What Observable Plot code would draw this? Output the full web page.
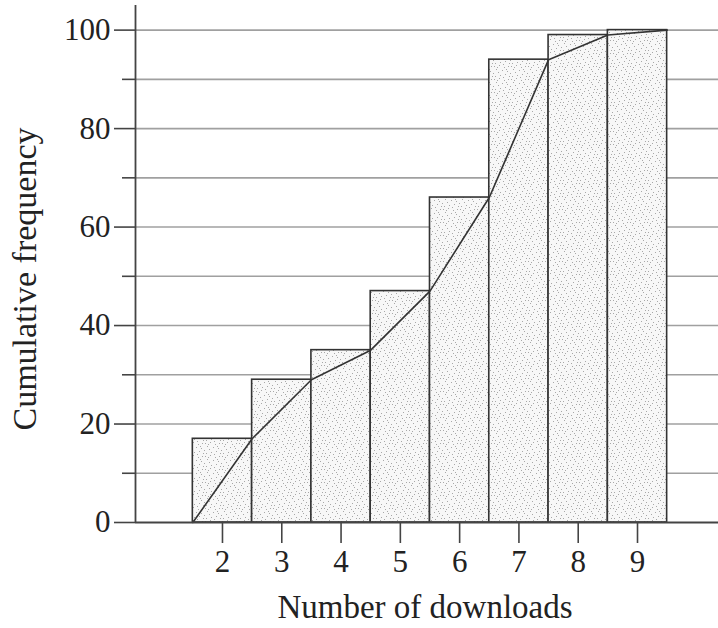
<!DOCTYPE html>
<html><head><meta charset="utf-8">
<script src="https://cdn.jsdelivr.net/npm/d3@7"></script>
<script src="https://cdn.jsdelivr.net/npm/@observablehq/plot@0.6"></script>
<style>body{margin:0;background:#fff}</style>
</head><body><div id="chart"></div>
<script>
const downloads = [2, 3, 4, 5, 6, 7, 8, 9];
const cumFreq = [17, 29, 35, 47, 66, 94, 99, 100];
const majorTicks = [0, 20, 40, 60, 80, 100];
const minorTicks = [10, 30, 50, 70, 90];
const gridValues = [10, 20, 30, 40, 50, 60, 70, 80, 90, 100];

const bars = downloads.map((d, i) => ({x1: d - 0.5, x2: d + 0.5, y: cumFreq[i]}));
const linePts = [{x: downloads[0] - 0.5, y: 0}].concat(downloads.map((d, i) => ({x: d + 0.5, y: cumFreq[i]})));
const xLo = 0.533, xHi = 10.366;
const font = "'Liberation Serif', 'DejaVu Serif', serif";
const fs = 31;

const chart = Plot.plot({
  width: 718, height: 628,
  marginLeft: 135, marginRight: 0, marginTop: 5, marginBottom: 106,
  style: {fontFamily: font, fontSize: fs + "px", color: "#222", background: "#fff"},
  x: {domain: [xLo, xHi]},
  y: {domain: [0, 105]},
  marks: [
    Plot.ruleY(gridValues, {x1: xLo, x2: xHi, stroke: "#a0a0a0", strokeWidth: 1.6}),
    Plot.rectY(bars, {x1: "x1", x2: "x2", y: "y", fill: "url(#stipple)", stroke: "#333", strokeWidth: 1.6}),
    Plot.line(linePts, {x: "x", y: "y", stroke: "#333", strokeWidth: 1.6}),
    Plot.ruleX([xLo], {y1: 0, y2: 105, stroke: "#444", strokeWidth: 1.8}),
    Plot.ruleY([0], {x1: xLo, x2: xHi, stroke: "#444", strokeWidth: 1.8}),
    Plot.axisY({ticks: majorTicks, tickSize: 21, tickPadding: 4, tickFormat: d => String(d), label: null, stroke: "#444", strokeWidth: 1.6, fontSize: fs}),
    Plot.axisY({ticks: minorTicks, tickSize: 13, tickFormat: () => "", label: null, stroke: "#444", strokeWidth: 1.6}),
    Plot.axisX({ticks: downloads, tickSize: 21, tickPadding: 6, tickFormat: d => String(d), label: null, stroke: "#444", strokeWidth: 1.6, fontSize: fs}),
    Plot.text(["Number of downloads"], {frameAnchor: "bottom", dx: -2, dy: 95, fontSize: 33, fill: "#222"}),
    Plot.text(["Cumulative frequency"], {frameAnchor: "left", textAnchor: "middle", dx: -110, dy: 15, rotate: -90, fontSize: 34, fill: "#222"})
  ]
});

// stipple pattern definition for bar fill
const ns = "http://www.w3.org/2000/svg";
const defs = document.createElementNS(ns, "defs");
const pat = document.createElementNS(ns, "pattern");
pat.setAttribute("id", "stipple");
pat.setAttribute("patternUnits", "userSpaceOnUse");
pat.setAttribute("width", "17");
pat.setAttribute("height", "13");
const bg = document.createElementNS(ns, "rect");
bg.setAttribute("width", "17"); bg.setAttribute("height", "13"); bg.setAttribute("fill", "#f7f7f7");
pat.appendChild(bg);
[[1,1],[6,0],[11,2],[15,1],[3,4],[9,5],[14,6],[0,8],[5,7],[12,9],[7,10],[2,11],[16,11],[10,12],[4,2],[13,4]].forEach(([cx, cy]) => {
  const c = document.createElementNS(ns, "rect");
  c.setAttribute("x", cx); c.setAttribute("y", cy);
  c.setAttribute("width", "1"); c.setAttribute("height", "1");
  c.setAttribute("fill", "#a8a8a8");
  pat.appendChild(c);
});
defs.appendChild(pat);
chart.insertBefore(defs, chart.firstChild);
document.getElementById("chart").appendChild(chart);
</script>
</body></html>
